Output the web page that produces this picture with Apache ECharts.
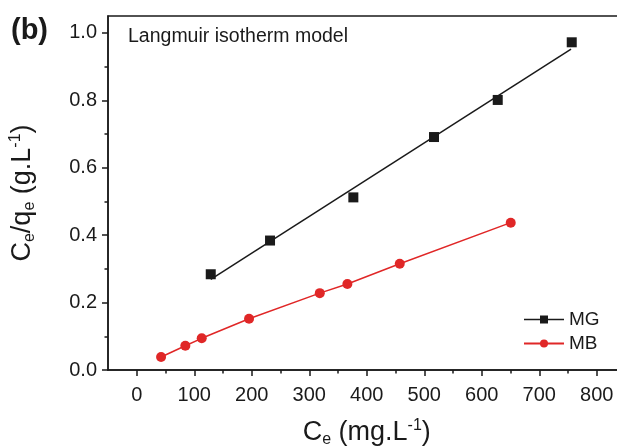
<!DOCTYPE html>
<html>
<head>
<meta charset="utf-8">
<script src="https://cdn.jsdelivr.net/npm/echarts@6/dist/echarts.min.js"></script>
<style>
  html, body { margin: 0; padding: 0; background: #fff; }
  #chart { width: 617px; height: 448px; }
</style>
</head>
<body>
<div id="chart"></div>
<script>
// values
var mgX = [128.7, 231.8, 376.7, 517, 627.8, 756.5];
var mgY = [0.284, 0.384, 0.512, 0.691, 0.801, 0.972];
var mgFitX = [128.7, 755.3];
var mgFitY = [0.269, 0.952];
var mbX = [42.3, 84.5, 113, 195.3, 318.3, 366.3, 457.4, 650.4];
var mbY = [0.0386, 0.072, 0.094, 0.152, 0.228, 0.255, 0.315, 0.437];

var xMajor = [0, 100, 200, 300, 400, 500, 600, 700, 800];
var xMinor = [50, 150, 250, 350, 450, 550, 650, 750];
var yMajor = [0, 0.2, 0.4, 0.6, 0.8, 1.0];
var yMinor = [0.1, 0.3, 0.5, 0.7, 0.9];

function pairs(xs, ys){
    var out = [];
    for(var i=0;i<xs.length;i++){
        out.push([xs[i], ys[i]]);
    }
    return out;
}

var font = 'Liberation Sans, Arial, sans-serif';
var ink = '#1a1a1a';
var red = '#e02727';

// rich styles for the sub/superscripts in the axis titles
var nameRich = {
    a: { fontSize: 27, color: ink, lineHeight: 30 },
    s: { fontSize: 16, color: ink, lineHeight: 7, verticalAlign: 'bottom' },
    p: { fontSize: 16, color: ink, lineHeight: 19, verticalAlign: 'top' }
};

var chart = echarts.init(document.getElementById('chart'));

var option = {
    animation: false,
    textStyle: { fontFamily: font },
    grid: {
        left: 108,
        top: 16,
        width: 517.5,
        height: 354,
        outerBoundsMode: 'none',
        containLabel: false,
        show: true,
        borderColor: ink,
        borderWidth: 1.5
    },
    legend: {
        data: [
            { name: 'MG', lineStyle: { opacity: 1, color: ink, width: 1.5 } },
            { name: 'MB' }
        ],
        orient: 'vertical',
        left: 518,
        top: 305,
        itemWidth: 40,
        itemHeight: 10,
        itemGap: 5,
        textStyle: { fontSize: 19, color: ink, fontFamily: font }
    },
    graphic: [
        {
            type: 'text',
            left: 11,
            top: 16,
            style: { text: '(b)', font: 'bold 29px ' + font, fill: ink }
        },
        {
            type: 'text',
            left: 128,
            top: 27,
            style: { text: 'Langmuir isotherm model', font: '19.5px ' + font, fill: ink }
        }
    ],
    xAxis: [
        {
            type: 'value',
            min: -50,
            max: 850,
            splitLine: { show: false },
            axisLine: { show: true, onZero: false, lineStyle: { color: ink, width: 1.5 } },
            axisTick: { show: true, customValues: xMajor, length: 6, lineStyle: { color: ink, width: 1.5 } },
            axisLabel: { customValues: xMajor, fontSize: 20, color: ink, margin: 15 },
            name: '{a|C}{s|e}{a| (mg.L}{p|-1}{a|)}',
            nameLocation: 'middle',
            nameGap: 48,
            nameTextStyle: { rich: nameRich }
        },
        {
            type: 'value',
            min: -50,
            max: 850,
            position: 'bottom',
            splitLine: { show: false },
            axisLine: { show: false, onZero: false },
            axisTick: { show: true, customValues: xMinor, length: 3.5, lineStyle: { color: ink, width: 1.5 } },
            axisLabel: { show: false }
        }
    ],
    yAxis: [
        {
            type: 'value',
            min: 0,
            max: 1.05,
            splitLine: { show: false },
            axisLine: { show: true, onZero: false, lineStyle: { color: ink, width: 1.5 } },
            axisTick: { show: true, customValues: yMajor, length: 6, lineStyle: { color: ink, width: 1.5 } },
            axisLabel: {
                customValues: yMajor,
                fontSize: 20,
                color: ink,
                margin: 11,
                formatter: function(v){ return v.toFixed(1); }
            },
            name: '{a|C}{s|e}{a|/q}{s|e}{a| (g.L}{p|-1}{a|)}',
            nameLocation: 'middle',
            nameGap: 70,
            nameTextStyle: { rich: nameRich }
        },
        {
            type: 'value',
            min: 0,
            max: 1.05,
            position: 'left',
            splitLine: { show: false },
            axisLine: { show: false, onZero: false },
            axisTick: { show: true, customValues: yMinor, length: 3.5, lineStyle: { color: ink, width: 1.5 } },
            axisLabel: { show: false }
        }
    ],
    series: [
        {
            name: 'MG fit',
            type: 'line',
            data: pairs(mgFitX, mgFitY),
            showSymbol: false,
            silent: true,
            lineStyle: { color: ink, width: 1.5 }
        },
        {
            name: 'MG',
            type: 'line',
            data: pairs(mgX, mgY),
            symbol: 'rect',
            symbolSize: 10,
            itemStyle: { color: ink },
            lineStyle: { color: ink, width: 1.5, opacity: 0 },
            z: 3
        },
        {
            name: 'MB',
            type: 'line',
            data: pairs(mbX, mbY),
            symbol: 'circle',
            symbolSize: 10,
            itemStyle: { color: red },
            lineStyle: { color: red, width: 1.5 },
            z: 3
        }
    ]
};

chart.setOption(option);
</script>
</body>
</html>
